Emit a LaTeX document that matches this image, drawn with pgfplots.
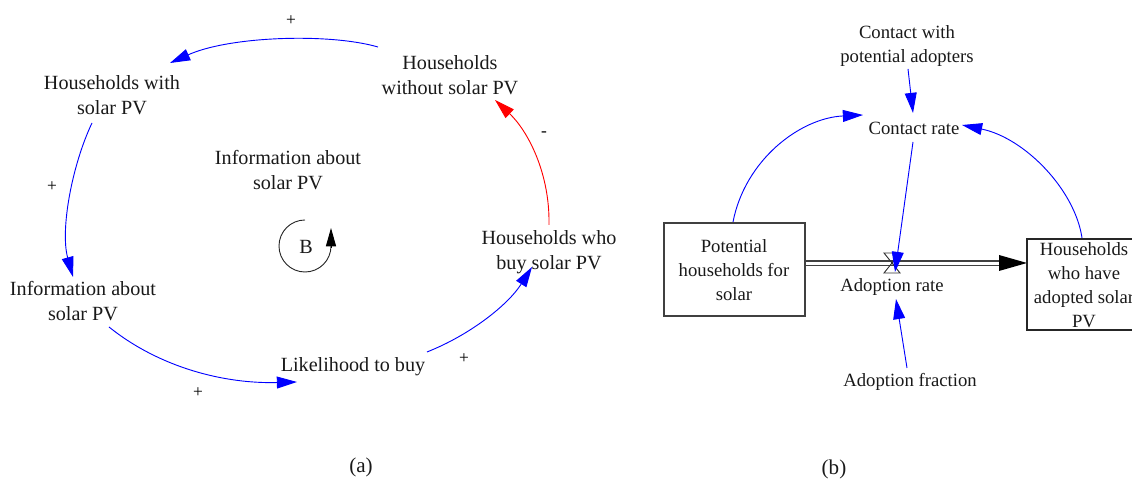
\documentclass[border=0pt]{standalone}
\usepackage{fontspec}
\setmainfont{Liberation Serif}
\usepackage{pgfplots}
\pgfplotsset{compat=1.18}
\usetikzlibrary{arrows.meta}
\begin{document}
\begin{tikzpicture}[
  lbl/.style={align=center, font=\fontsize{11}{13.7}\selectfont, inner sep=0pt, text=black!90},
  lblb/.style={align=center, font=\fontsize{10.2}{13.2}\selectfont, inner sep=0pt, text=black!90},
  sg/.style={font=\fontsize{9.5}{10}\selectfont, inner sep=0pt},
  bl/.style={draw=blue, line width=0.5pt, -{Triangle[length=11pt,width=6.5pt]}},
]
\begin{axis}[name=ax, scale only axis, width=618pt, height=265.3pt,
  xmin=0, xmax=1132, ymin=0, ymax=486, y dir=reverse, axis lines=none, clip=false]
\addplot[draw=none] coordinates {(0,0)};
% ---------- panel (a)
\draw[bl] (axis cs:378,47) .. controls (axis cs:330,33) and (axis cs:230,36) .. (axis cs:170,63);
\draw[bl] (axis cs:92,123) .. controls (axis cs:72,165) and (axis cs:60,230) .. (axis cs:73,277);
\draw[bl] (axis cs:109,327) .. controls (axis cs:160,368) and (axis cs:225,384) .. (axis cs:297,382);
\draw[bl] (axis cs:427,352) .. controls (axis cs:470,335) and (axis cs:508,305) .. (axis cs:532,267);
\draw[draw=red, line width=0.5pt, -{Triangle[length=11pt,width=6.5pt]}] (axis cs:549,225) .. controls (axis cs:550,172) and (axis cs:527,130) .. (axis cs:495,100);
\node[lbl] at (axis cs:112,95.5) {Households with\\solar PV};
\node[lbl] at (axis cs:450,75) {Households\\without solar PV};
\node[lbl] at (axis cs:288,170.5) {Information about\\solar PV};
\node[lbl] at (axis cs:83,301.5) {Information about\\solar PV};
\node[lbl] at (axis cs:353,367) {Likelihood to buy};
\node[lbl] at (axis cs:549,252.5) {Households who\\buy solar PV};
\node[sg] at (axis cs:291,21) {+};
\node[sg] at (axis cs:52,187) {+};
\node[sg] at (axis cs:198,393) {+};
\node[sg] at (axis cs:464,359) {+};
\node[sg] at (axis cs:544,134) {-};
\draw[black!85, line width=0.5pt] (axis cs:305,220) arc[start angle=90, end angle=360, radius=14.2pt];
\draw[black, line width=0.5pt, -{Triangle[length=10pt,width=5.5pt]}] (axis cs:331,248) -- (axis cs:331,228);
\node[lbl] at (axis cs:306,247) {B};
\node[lbl, font=\fontsize{11.5}{13}\selectfont] at (axis cs:361,467) {(a)};
% ---------- panel (b)
\draw[bl] (axis cs:908,69) -- (axis cs:913,113);
\draw[bl] (axis cs:733,222) .. controls (axis cs:745,160) and (axis cs:800,118) .. (axis cs:863,115);
\draw[bl] (axis cs:1082,238) .. controls (axis cs:1075,190) and (axis cs:1025,138) .. (axis cs:962,125);
\draw[draw=black!75, line width=0.6pt] (axis cs:664,223) rectangle (axis cs:805,316);
\draw[draw=black!75, line width=0.6pt] (axis cs:805,261) -- (axis cs:1000,261);
\draw[draw=black!75, line width=0.6pt] (axis cs:805,265.5) -- (axis cs:1000,265.5);
\fill[black] (axis cs:1027,263) -- (axis cs:999,255) -- (axis cs:999,271) -- cycle;
\draw[black!80, line width=0.5pt] (axis cs:884,253) -- (axis cs:900,253) -- (axis cs:884,273) -- (axis cs:900,273) -- cycle;
\draw[bl] (axis cs:913,142) -- (axis cs:895,272);
\draw[bl] (axis cs:907,368) -- (axis cs:896,299);
\draw[draw=black!85, line width=0.6pt] (axis cs:1027,239) rectangle (axis cs:1150,330);
\node[lblb] at (axis cs:907,46) {Contact with\\potential adopters};
\node[lblb] at (axis cs:914,128) {Contact rate};
\node[lblb] at (axis cs:734,270) {Potential\\households for\\solar};
\node[lblb] at (axis cs:892,287) {Adoption rate};
\node[lblb] at (axis cs:910,382) {Adoption fraction};
\node[lblb] at (axis cs:1084,285) {Households\\who have\\adopted solar\\PV};
\node[lblb, font=\fontsize{11.5}{13}\selectfont] at (axis cs:834,469) {(b)};
\end{axis}
\pgfresetboundingbox
\path[use as bounding box] (ax.south west) rectangle (ax.north east);
\end{tikzpicture}
\end{document}
